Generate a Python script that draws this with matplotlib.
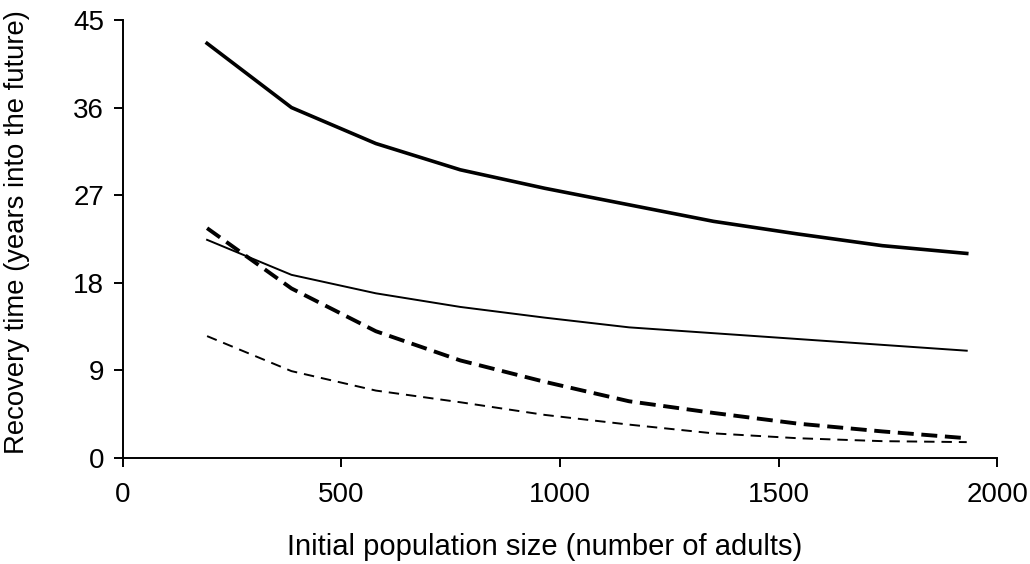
#Recovery time against initial population size

import matplotlib
matplotlib.use('Agg')
import matplotlib.pyplot as plt

plt.rcParams['font.family'] = ['Liberation Sans', 'DejaVu Sans']
plt.rcParams['lines.scale_dashes'] = False

#initial population sizes used in the runs
pop_size = [193, 386, 579, 772, 965, 1158, 1351, 1544, 1737, 1930]

#recovery times for each scenario
thick_solid = [42.6, 36.0, 32.3, 29.6, 27.7, 26.0, 24.3, 23.0, 21.8, 21.0]
thin_solid = [22.4, 18.8, 16.9, 15.5, 14.4, 13.4, 12.8, 12.2, 11.6, 11.0]
thick_dashed = [23.6, 17.4, 13.0, 10.0, 7.8, 5.8, 4.6, 3.5, 2.7, 2.0]
thin_dashed = [12.5, 8.9, 6.9, 5.7, 4.4, 3.4, 2.5, 2.0, 1.7, 1.6]

x_ticks = [0, 500, 1000, 1500, 2000]
y_ticks = [0, 9, 18, 27, 36, 45]

fig = plt.figure(figsize=(10.3, 5.64), dpi=100)
ax = fig.add_axes([0.1191, 0.1885, 0.8492, 0.776])

ax.plot(pop_size, thick_solid, color='black', lw=2.6, solid_joinstyle='round')
ax.plot(pop_size, thin_solid, color='black', lw=1.4)
ax.plot(pop_size, thick_dashed, color='black', lw=2.8, dashes=(11.5, 5.5))
ax.plot(pop_size, thin_dashed, color='black', lw=1.4, dashes=(7.5, 5))

ax.set_xlim(0, 2000)
ax.set_ylim(0, 45)
ax.set_xticks(x_ticks)
ax.set_yticks(y_ticks)

for side in ['top', 'right']:
	ax.spines[side].set_visible(False)
for side in ['left', 'bottom']:
	ax.spines[side].set_linewidth(1.4)

ax.tick_params(direction='out', length=6.5, width=1.4, labelsize=20)
ax.tick_params(axis='x', pad=11)
ax.tick_params(axis='y', pad=7)

#axis titles placed directly on the figure
fig.text(0.529, 0.030, 'Initial population size (number of adults)',
	fontsize=21, ha='center', va='center')
fig.text(0.0165, 0.589, 'Recovery time (years into the future)',
	fontsize=19.8, ha='center', va='center', rotation=90)

plt.savefig('out.png', dpi=100)
